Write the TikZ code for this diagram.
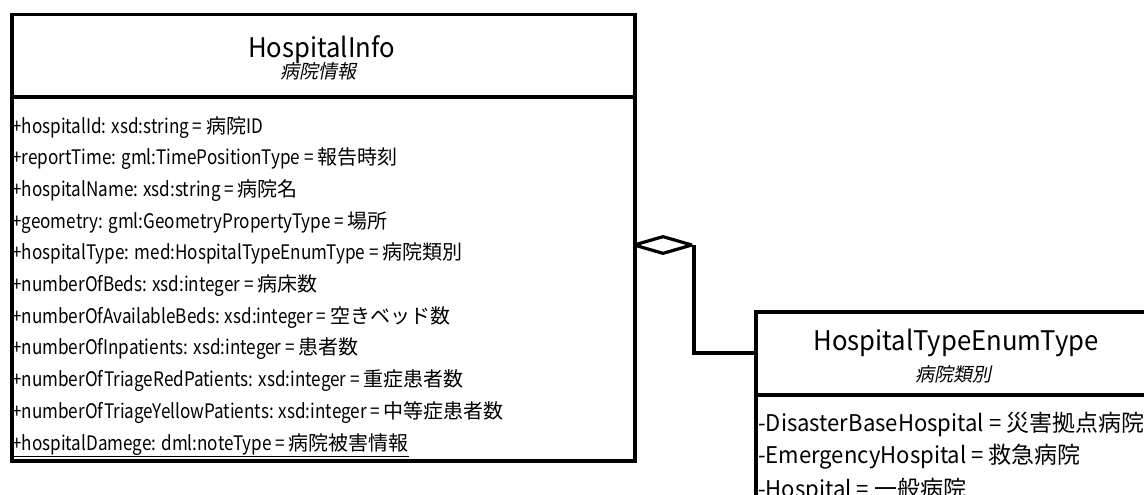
\documentclass[tikz,border=0pt]{standalone}
\usepackage{fontspec}
\setmainfont{Noto Sans CJK JP}
\newfontfamily\lat{Noto Sans CJK JP}[FakeStretch=0.855]
\newfontfamily\elat{Noto Sans CJK JP}[FakeStretch=0.96]
\newfontfamily\tlat{Noto Sans CJK JP}[FakeStretch=0.95]
\newfontfamily\jp{Noto Sans CJK JP}
\newfontfamily\jpsl{Noto Sans CJK JP}[FakeSlant=0.2]
\usetikzlibrary{shapes.geometric}
\tikzset{
  umlbox/.style={draw, line width=3.5pt, inner sep=0pt, fill=white},
  umlline/.style={line width=3.5pt},
  conn/.style={line width=3.5pt},
  attr/.style={anchor=base west, inner sep=0pt, font=\fontsize{20}{24}\selectfont},
  eattr/.style={anchor=base west, inner sep=0pt, font=\fontsize{23}{26}\selectfont},
  ttl/.style={anchor=base, inner sep=0pt, font=\fontsize{27}{30}\selectfont\tlat},
  subttl/.style={anchor=base, inner sep=0pt, font=\fontsize{19}{22}\selectfont\jpsl},
  aggr/.style={diamond, draw, line width=3.2pt, line join=bevel, inner sep=0pt, minimum width=59, minimum height=18, fill=white}
}
\begin{document}
\begin{tikzpicture}[x=1pt,y=-1pt]
\useasboundingbox (0,0) rectangle (1144,495);
\clip (0,0) rectangle (1144,495);
% HospitalInfo class
\node[umlbox, anchor=north west, minimum width=623, minimum height=446] (info) at (10,13) {};
\draw[umlline] (info.west |- 0,97) -- (info.east |- 0,97);
\node[ttl] (infoT) at (321.5,58) {HospitalInfo};
\node[subttl] (infoS) at (318,79) {病院情報};
\node[attr] (a1) at (12,133) {{\lat +hospitalId: xsd:string = }{\jp 病院}{\lat ID}};
\node[attr] (a2) at (12,164.7) {{\lat +reportTime: gml:TimePositionType = }{\jp 報告時刻}};
\node[attr] (a3) at (12,196.4) {{\lat +hospitalName: xsd:string = }{\jp 病院名}};
\node[attr] (a4) at (12,228.1) {{\lat +geometry: gml:GeometryPropertyType = }{\jp 場所}};
\node[attr] (a5) at (12,259.8) {{\lat +hospitalType: med:HospitalTypeEnumType = }{\jp 病院類別}};
\node[attr] (a6) at (12,291.5) {{\lat +numberOfBeds: xsd:integer = }{\jp 病床数}};
\node[attr] (a7) at (12,323.2) {{\lat +numberOfAvailableBeds: xsd:integer = }{\jp 空きベッド数}};
\node[attr] (a8) at (12,354.9) {{\lat +numberOfInpatients: xsd:integer = }{\jp 患者数}};
\node[attr] (a9) at (12,386.6) {{\lat +numberOfTriageRedPatients: xsd:integer = }{\jp 重症患者数}};
\node[attr] (a10) at (12,418.3) {{\lat +numberOfTriageYellowPatients: xsd:integer = }{\jp 中等症患者数}};
\node[attr] (a11) at (12,450) {\underline{{\lat +hospitalDamege: dml:noteType = }{\jp 病院被害情報}}};
% HospitalTypeEnumType class
\node[umlbox, anchor=north west, minimum width=404, minimum height=260] (enum) at (754,310) {};
\draw[umlline] (enum.west |- 0,395) -- (enum.east |- 0,395);
\node[ttl] (enumT) at (956,350) {HospitalTypeEnumType};
\node[subttl] (enumS) at (953,381) {病院類別};
\node[eattr] (e1) at (758,431) {{\elat -DisasterBaseHospital = }{\jp 災害拠点病院}};
\node[eattr] (e2) at (758,463) {{\elat -EmergencyHospital = }{\jp 救急病院}};
\node[eattr] (e3) at (758,497) {{\elat -Hospital = }{\jp 一般病院}};
% aggregation
\node[aggr] (agg) at (663,245) {};
\coordinate (enumIn) at (754,353);
\draw[conn] (agg.east) |- (enumIn);
\end{tikzpicture}
\end{document}
